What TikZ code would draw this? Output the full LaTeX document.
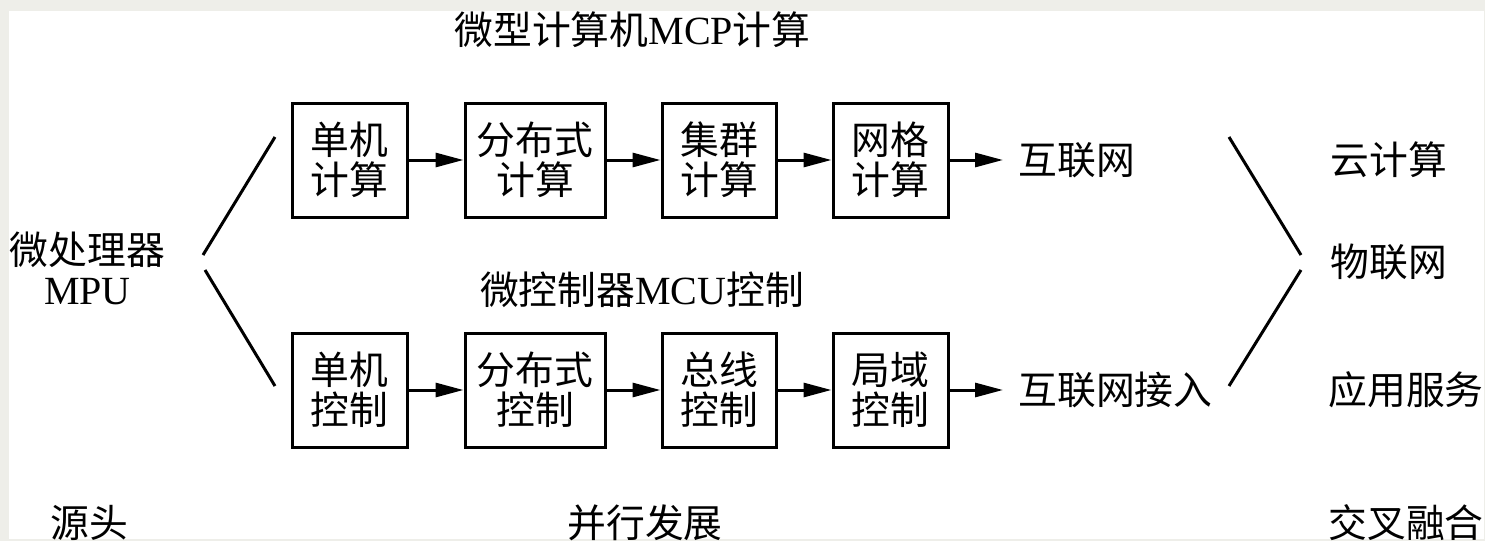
\documentclass[tikz,border=0pt]{standalone}
\usepackage{fontspec}
\setmainfont{Liberation Serif}
\newfontfamily\cjk{Noto Sans CJK SC}
\usetikzlibrary{arrows.meta}
\definecolor{outerbg}{RGB}{238,238,233}
\newcommand\vs{\rule[-0.12em]{0pt}{1em}}
\newcommand\latn[1]{{\rmfamily\fontsize{20}{20}\selectfont #1}}
\tikzset{
  txt/.style={inner sep=0pt, align=center, font=\cjk\fontsize{19.4}{20}\selectfont},
  stage/.style={txt, draw, line width=1.5pt, minimum height=57pt},
  flow/.style={-{Triangle[length=14pt,width=7pt]}, line width=1.5pt},
  branch/.style={line width=1.5pt}
}
\begin{document}
\begin{tikzpicture}[x=0.5pt,y=-0.5pt]
\fill[outerbg] (0,0) rectangle (1485,541);
\fill[white] (9,11) rectangle (1484,539);
\useasboundingbox (0,0) rectangle (1485,541);

% titles
\node[txt] (t1) at (632.5,30) {\vs 微型计算机\latn{MCP}计算};
\node[txt] (t2) at (642,290) {\vs 微控制器\latn{MCU}控制};

% source
\node[txt] (mpu) at (87.5,270) {\vs 微处理器\\\vs\latn{MPU}};

% top row
\node[stage, minimum width=57.5pt] (c1) at (349.5,160) {\vs 单机\\\vs 计算};
\node[stage, minimum width=70pt]   (c2) at (535,160)   {\vs 分布式\\\vs 计算};
\node[stage, minimum width=57pt]   (c3) at (719,160)   {\vs 集群\\\vs 计算};
\node[stage, minimum width=57.5pt] (c4) at (890.5,160) {\vs 网格\\\vs 计算};
\node[txt, anchor=west] (net) at (1018,160) {\vs 互联网};

% bottom row
\node[stage, minimum width=57.5pt] (k1) at (349.5,390) {\vs 单机\\\vs 控制};
\node[stage, minimum width=70pt]   (k2) at (535,390)   {\vs 分布式\\\vs 控制};
\node[stage, minimum width=57pt]   (k3) at (719,390)   {\vs 总线\\\vs 控制};
\node[stage, minimum width=57.5pt] (k4) at (890.5,390) {\vs 局域\\\vs 控制};
\node[txt, anchor=west] (acc) at (1018,390) {\vs 互联网接入};

% right column
\node[txt, anchor=west] (cloud) at (1330,160) {\vs 云计算};
\node[txt, anchor=west] (iot)   at (1330,262) {\vs 物联网};
\node[txt, anchor=west] (app)   at (1328,390) {\vs 应用服务};

% bottom labels
\node[txt, anchor=west] (src) at (50,523)   {\vs 源头};
\node[txt, anchor=west] (par) at (567,523)  {\vs 并行发展};
\node[txt, anchor=west] (fus) at (1328,523) {\vs 交叉融合};

% arrows
\draw[flow] (c1) -- (c2);
\draw[flow] (c2) -- (c3);
\draw[flow] (c3) -- (c4);
\draw[flow, shorten >=7.5pt] (c4) -- (net);
\draw[flow] (k1) -- (k2);
\draw[flow] (k2) -- (k3);
\draw[flow] (k3) -- (k4);
\draw[flow, shorten >=7.5pt] (k4) -- (acc);

% branching lines
\coordinate (la1) at (203,255); \coordinate (la2) at (275,137);
\coordinate (lb1) at (205,270); \coordinate (lb2) at (275,386);
\coordinate (ra1) at (1229,137); \coordinate (ra2) at (1301,255);
\coordinate (rb1) at (1301,270); \coordinate (rb2) at (1229,386);
\draw[branch] (la1) -- (la2);
\draw[branch] (lb1) -- (lb2);
\draw[branch] (ra1) -- (ra2);
\draw[branch] (rb1) -- (rb2);
\end{tikzpicture}
\end{document}
